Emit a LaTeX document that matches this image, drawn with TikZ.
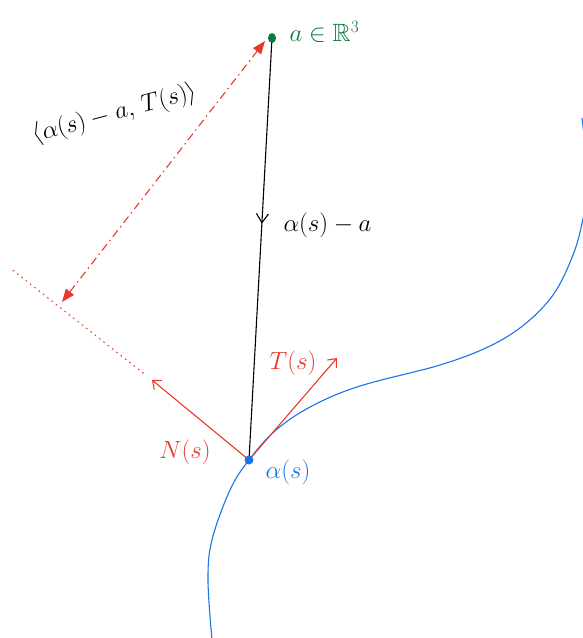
\documentclass[tikz,border=0pt]{standalone}
\usepackage{amsmath}
\usepackage{amssymb}
\usepackage{tikz}
\usetikzlibrary{arrows.meta}
\usetikzlibrary{calc}
\usetikzlibrary{decorations.markings}
\usepackage{xcolor}

\definecolor{penred}{HTML}{E8392B}
\definecolor{pengreen}{HTML}{0B7A3E}
\definecolor{penblue}{HTML}{1A73E8}

\tikzset{
	handtext/.style={font=\fontsize{25}{29}\selectfont},
	redvec/.style={draw=penred,line width=1.1pt,-{Straight Barb[length=7pt,width=12pt]}},
	midarrow/.style={postaction={decorate},decoration={markings,mark=at position #1 with {\arrow{Straight Barb[length=9pt,width=12pt]}}}}
}

\begin{document}
\begin{tikzpicture}[x=1pt,y=-1pt]
	\useasboundingbox (0,0) rectangle (583,638);
	\coordinate (PointA) at (272,38);
	\coordinate (AlphaS) at (249,460);
	\coordinate (TTip) at (337,358);
	\coordinate (NTip) at (152,380);
	\coordinate (NEnd) at (10,268);
	\coordinate (Foot) at (62,302);
	\begin{scope}
		\clip (0,0) rectangle (583,638);
		\draw[penblue,line width=1.1pt] plot[smooth,tension=0.6] coordinates {(212,640) (208,580) (212,540) (230,490) (249,460) (276,430) (312,406) (360,386) (440,365) (490,346) (525,324) (553,295) (571,260) (581,228) (588,185) (585,145) (582,118)};
	\end{scope}
	\draw[line width=1.1pt,midarrow=0.44] (PointA) -- (AlphaS);
	\draw[redvec] (AlphaS) -- (TTip);
	\draw[redvec] (AlphaS) -- (NTip);
	\draw[penred,line width=1.1pt,dash pattern=on 1.5pt off 4pt] ($(NTip)!0.06!(NEnd)$) -- (NEnd);
	\draw[penred,line width=1.1pt,dash pattern=on 8pt off 4pt on 1.5pt off 4pt,{Triangle[length=13pt,width=10pt]}-{Triangle[length=13pt,width=10pt]}] (Foot) -- ($(PointA)+(-7,3)$);
	\fill[pengreen] (PointA) ellipse (4pt and 5pt);
	\fill[penblue] (AlphaS) circle (4.5pt);
	\node[handtext,pengreen,anchor=west] (InR) at (286,32) {$a\in\mathbb{R}^3$};
	\node[handtext,anchor=west] (Diff) at (280,225) {$\alpha(s)-a$};
	\node[handtext,penred] (TLabel) at (293,363) {$T(s)$};
	\node[handtext,penred] (NLabel) at (185,452) {$N(s)$};
	\node[handtext,penblue] (AlphaLabel) at (288,472) {$\alpha(s)$};
	\node[handtext,rotate=15] (Inner) at (115,114) {$\langle\alpha(s)-a,\,T(s)\rangle$};
\end{tikzpicture}
\end{document}
